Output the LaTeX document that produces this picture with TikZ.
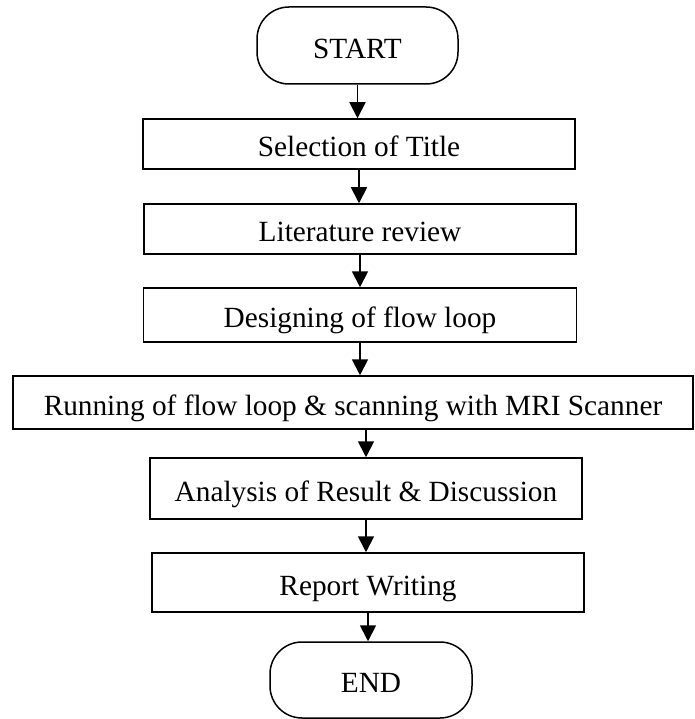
\documentclass[tikz,border=0pt]{standalone}
\usepackage{fontspec}
\setmainfont{Liberation Serif}
\usetikzlibrary{arrows.meta}
\tikzset{
  boxnode/.style = {draw=black, line width=1.5pt, inner sep=0pt, align=center,
    font=\fontsize{29.3}{35}\selectfont, text height=29.3pt, text depth=4.1pt},
  terminal/.style = {boxnode, rectangle, rounded corners=32pt,
    minimum width=201pt, minimum height=77pt},% debut et fin
  process/.style = {boxnode, rectangle, minimum width=432pt}% etape
}

\begin{document}
\begin{tikzpicture}[x=1pt,y=-1pt,
  flow/.style={-{Triangle[length=16pt,width=16pt]}, line width=1.8pt}]
\useasboundingbox (0,0) rectangle (694,719);
\node [terminal] (start) at (357.5,45.5) {START};
\node [process, minimum height=50pt] (title) at (359,144) {Selection of Title};
\node [process, minimum height=50pt] (review) at (360,229) {Literature review};
\node [process, minimum height=54pt, minimum width=433pt] (design) at (360,315)
  {Designing of flow loop};
\node [process, minimum height=53pt, minimum width=680pt] (running) at (353,402.5)
  {Running of flow loop \& scanning with MRI Scanner};
\node [process, minimum height=61pt] (analysis) at (366,488.5)
  {Analysis of Result \& Discussion};
\node [process, minimum height=59pt] (report) at (368,582.5) {Report Writing};
\node [terminal, minimum width=202pt, minimum height=76pt] (end) at (371,680) {END};
% fleches
\draw [flow] (start.south) -- (start.south |- title.north);
\draw [flow] (title.south) -- (title.south |- review.north);
\draw [flow] (review.south) -- (review.south |- design.north);
\draw [flow] (design.south) -- (design.south |- running.north);
\draw [flow] (running.south -| analysis.north) -- (analysis.north);
\draw [flow] (analysis.south) -- (analysis.south |- report.north);
\draw [flow] (report.south) -- (report.south |- end.north);
\end{tikzpicture}
\end{document}
